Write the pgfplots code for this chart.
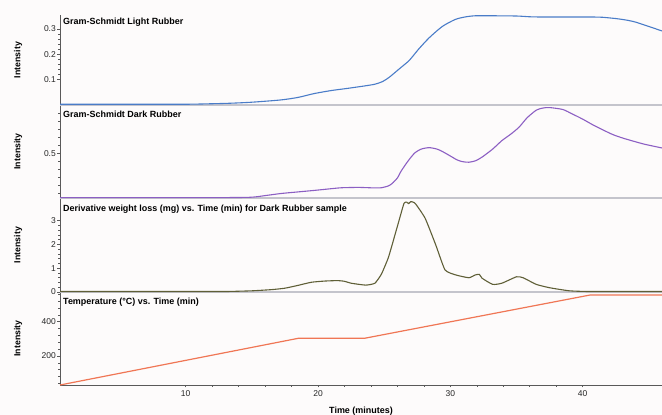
\documentclass[border=0pt]{standalone}
\usepackage{pgfplots}
\pgfplotsset{compat=1.18}
\usepackage{fontspec}
\setmainfont{Liberation Sans}
\definecolor{cblue}{RGB}{74,124,200}
\definecolor{cpurple}{RGB}{140,95,195}
\definecolor{colive}{RGB}{95,95,55}
\definecolor{corange}{RGB}{240,118,85}
\definecolor{csep}{RGB}{196,196,204}
\definecolor{cbg}{RGB}{253,251,251}
\tikzset{ttl/.style={anchor=north west, inner sep=0pt, font=\bfseries\fontsize{9}{10}\selectfont},
  ylab/.style={xshift=-42bp, rotate=90, anchor=center, inner sep=0pt, font=\bfseries\fontsize{8.8}{10}\selectfont}}
\begin{document}
\begin{tikzpicture}
\fill[cbg] (0,0) rectangle (662bp,415bp);
\path[use as bounding box] (0,0) rectangle (662bp,415bp);
\pgfplotsset{
  panel/.style={
    scale only axis, width=602bp, xmin=0.5, xmax=46,
    anchor=south west, clip=false,
    axis x line*=bottom, axis y line*=left,
    axis line style={-},
    y axis line style={black!65, line width=0.6bp},
    tick align=outside, major tick length=2.5bp, minor tick length=1.6bp,
    tick style={black!65, line width=0.5bp},
    ticklabel style={font=\fontsize{8.5}{9}\selectfont, text=black!85},
    yticklabel style={inner sep=1.5bp},
    /pgf/number format/assume math mode=true,
  },
  sep/.style={xtick=\empty, minor xtick={}, x axis line style={draw=csep, line width=1.6bp}},
}
% Panel 4: temperature
\begin{axis}[panel, at={(60bp,30bp)}, height=93bp, ymin=31, ymax=573,
  ytick={200,400}, minor ytick={40,80,...,560},
  xtick={10,20,30,40}, minor x tick num=4,
  x axis line style={black!65, line width=0.6bp},
  xlabel={Time (minutes)},
  xlabel style={at={(axis description cs:0.5,0)}, anchor=center, yshift=-26bp, font=\bfseries\fontsize{9}{10}\selectfont}]
\addplot[corange, line width=1.2bp] coordinates {(0.5,31) (18.5,303) (23.5,303) (40.6,556) (46,556)};
\node[ttl, xshift=3bp, yshift=-6bp] at (rel axis cs:0,1) {Temperature (°C) vs. Time (min)};
\node[ylab] at (rel axis cs:0,0.5) {Intensity};
\end{axis}
% Panel 3: derivative weight loss
\begin{axis}[panel, sep, at={(60bp,123bp)}, height=94bp, ymin=0, ymax=3.955,
  ytick={0,1,2,3}, minor y tick num=4]
\addplot[colive, line width=1.1bp, smooth, tension=0.3] coordinates {
(0.5,0.02) (5,0.02) (10,0.02) (13,0.02) (15,0.05) (16.5,0.1) (17.5,0.16) (18.5,0.28) (19.5,0.41) (20.5,0.46) (21.5,0.48) (22,0.45) (22.5,0.37) (23.6,0.29) (24.3,0.37) (24.8,0.76) (25.3,1.42) (25.6,1.98) (26.1,2.96) (26.5,3.73) (26.7,3.78) (26.85,3.72) (27.0,3.8) (27.2,3.78) (27.4,3.69) (28.1,3.1) (28.9,1.98) (29.6,0.93) (30.4,0.72) (31.4,0.6) (31.9,0.72) (32.2,0.74) (32.4,0.58) (33.2,0.32) (33.9,0.37) (35,0.64) (35.5,0.6) (36.5,0.32) (37.5,0.18) (39,0.05) (40.6,0.02) (46,0.02)};
\node[ttl, xshift=3bp, yshift=-6.5bp] at (rel axis cs:0,1) {Derivative weight loss (mg) vs. Time (min) for Dark Rubber sample};
\node[ylab] at (rel axis cs:0,0.5) {Intensity};
\end{axis}
% Panel 2: Gram-Schmidt dark rubber
\begin{axis}[panel, sep, at={(60bp,217bp)}, height=93bp, ymin=0.22, ymax=0.8,
  ytick={0.5}, minor ytick={0.25,0.3,...,0.75}]
\addplot[cpurple, line width=1.1bp, smooth, tension=0.4] coordinates {
(0.5,0.222) (10,0.222) (14.7,0.224) (16,0.235) (17.2,0.248) (18.5,0.258) (19.8,0.268) (21,0.278) (21.8,0.284) (23.1,0.286) (24.2,0.283) (24.8,0.284) (25.3,0.295) (25.6,0.31) (26,0.345) (26.3,0.39) (26.8,0.45) (27.3,0.5) (27.8,0.525) (28.4,0.534) (29,0.525) (29.4,0.51) (30,0.482) (30.5,0.458) (30.9,0.447) (31.4,0.443) (31.9,0.452) (32.4,0.475) (33.2,0.525) (33.9,0.578) (34.6,0.62) (35.2,0.662) (35.8,0.72) (36.5,0.768) (37,0.781) (37.5,0.784) (38.5,0.772) (39.2,0.745) (40,0.712) (40.8,0.675) (41.6,0.642) (42.3,0.615) (43.1,0.592) (44.6,0.557) (46,0.532)};
\node[ttl, xshift=3bp, yshift=-6.2bp] at (rel axis cs:0,1) {Gram-Schmidt Dark Rubber};
\node[ylab] at (rel axis cs:0,0.5) {Intensity};
\end{axis}
% Panel 1: Gram-Schmidt light rubber
\begin{axis}[panel, sep, at={(60bp,310bp)}, height=90bp, ymin=0, ymax=0.355,
  ytick={0.1,0.2,0.3}, minor y tick num=4]
\addplot[cblue, line width=1.1bp, smooth, tension=0.4] coordinates {
(0.5,0.003) (5,0.003) (10,0.003) (12,0.005) (13.4,0.007) (15,0.011) (17.2,0.02) (18.5,0.03) (19.7,0.045) (21,0.057) (22.3,0.066) (23.5,0.075) (24.3,0.082) (24.9,0.093) (25.4,0.11) (26.2,0.145) (26.9,0.176) (27.6,0.22) (28.4,0.265) (29.4,0.31) (30.4,0.338) (31.2,0.348) (31.9,0.352) (33,0.352) (35,0.351) (36,0.348) (37,0.347) (39,0.347) (40.8,0.347) (41.5,0.346) (42.5,0.341) (43.3,0.335) (44,0.327) (45.1,0.308) (46,0.292)};
\node[ttl, xshift=3bp, yshift=-3bp] at (rel axis cs:0,1) {Gram-Schmidt Light Rubber};
\node[ylab] at (rel axis cs:0,0.5) {Intensity};
\end{axis}
\end{tikzpicture}
\end{document}
